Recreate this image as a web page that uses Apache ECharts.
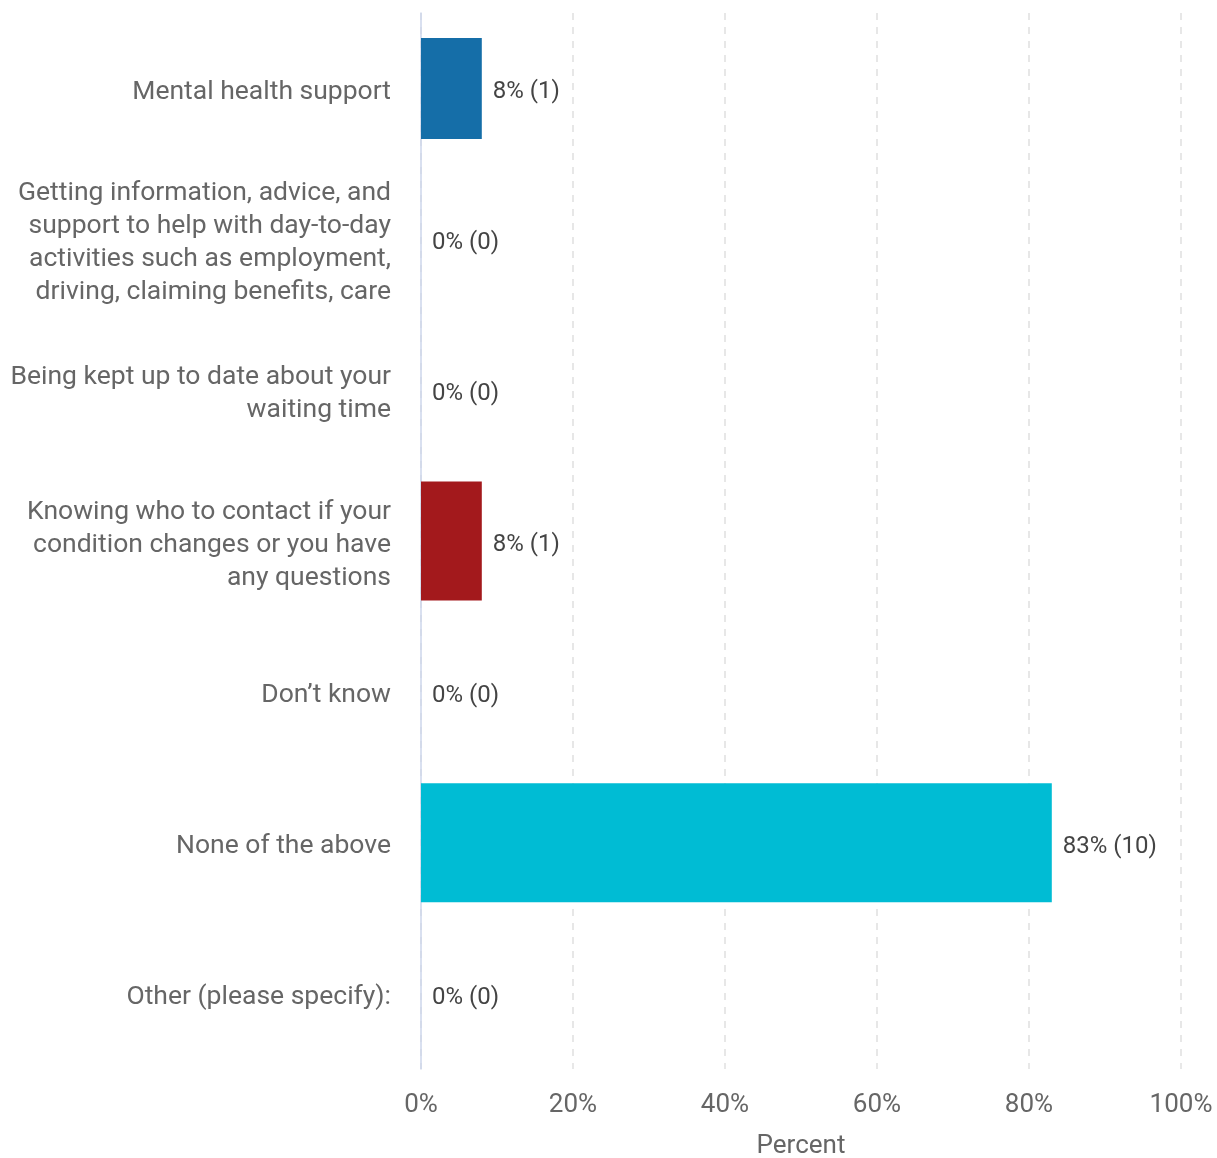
<!DOCTYPE html>
<html>
<head>
<meta charset="utf-8">
<title>Support needs</title>
<script src="https://cdn.jsdelivr.net/npm/echarts@6/dist/echarts.min.js"></script>
<style>
  html, body { margin: 0; padding: 0; background: #fff; }
  #chart { width: 1217px; height: 1158px; }
</style>
</head>
<body>
<div id="chart"></div>
<script>
// Answer options, top to bottom
const categories = [
  'Mental health support',
  'Getting information, advice, and\nsupport to help with day-to-day\nactivities such as employment,\ndriving, claiming benefits, care',
  'Being kept up to date about your\nwaiting time',
  'Knowing who to contact if your\ncondition changes or you have\nany questions',
  'Don\u2019t know',
  'None of the above',
  'Other (please specify):'
];
// Share of respondents (%) and number of respondents
const percents = [8, 0, 0, 8, 0, 83, 0];
const counts = [1, 0, 0, 1, 0, 10, 0];
// X axis ticks
const percentTicks = [0, 20, 40, 60, 80, 100];

// Styling
const barPalette = ['#156ea8', '#9c9c9c', '#9c9c9c', '#a3191c', '#9c9c9c', '#00bcd4', '#9c9c9c'];
const narrowRows = [0];           // rows drawn with the thinner bar
const FONT = 'Roboto, "Noto Sans", sans-serif';
// a thin empty first line nudges the text block a little below the row centre
const SPACER = '{s| }\n';
const spacerStyle = { fontSize: 1, lineHeight: 8 };

function rowData(keepNarrow) {
  return percents.map((v, i) => {
    const isNarrow = narrowRows.includes(i);
    if (isNarrow !== keepNarrow) return '-';
    return { value: v, itemStyle: { color: barPalette[i] } };
  });
}

const labelCfg = {
  show: true,
  position: 'right',
  distance: 11,
  formatter: p => SPACER + '{v|' + percents[p.dataIndex] + '% (' + counts[p.dataIndex] + ')}',
  rich: {
    s: spacerStyle,
    v: { fontFamily: FONT, fontSize: 24, lineHeight: 30, color: '#444' }
  }
};

const catAxisBase = {
  type: 'category',
  data: categories,
  inverse: true,
  axisTick: { show: false },
  splitLine: { show: false }
};

const chart = echarts.init(document.getElementById('chart'), null, { renderer: 'canvas' });
chart.setOption({
  animation: false,
  backgroundColor: '#fff',
  grid: { left: 421, right: 36, top: 13, bottom: 89, containLabel: false, outerBoundsMode: 'none' },
  xAxis: {
    type: 'value',
    min: percentTicks[0],
    max: percentTicks[percentTicks.length - 1],
    interval: percentTicks[1] - percentTicks[0],
    name: 'Percent',
    nameLocation: 'middle',
    nameGap: 64,
    nameTextStyle: { fontFamily: FONT, fontSize: 26, color: '#666' },
    axisLine: { show: false },
    axisTick: { show: false },
    axisLabel: {
      fontFamily: FONT, fontSize: 26, color: '#666', margin: 23,
      formatter: v => v + '%'
    },
    splitLine: {
      show: true,
      lineStyle: { color: '#e0e0e0', width: 1.5, type: [7, 7] }
    }
  },
  yAxis: [
    Object.assign({}, catAxisBase, {
      axisLine: { show: true, lineStyle: { color: '#ccd6eb', width: 1.5 } },
      axisLabel: {
        margin: 30, align: 'right', interval: 0,
        formatter: v => SPACER + '{t|' + v + '}',
        rich: {
          s: spacerStyle,
          t: { fontFamily: FONT, fontSize: 26.5, lineHeight: 33, color: '#666', align: 'right' }
        }
      }
    }),
    Object.assign({}, catAxisBase, {
      axisLine: { show: false },
      axisLabel: { show: false }
    })
  ],
  series: [
    {
      type: 'bar',
      yAxisIndex: 0,
      barWidth: 119,
      data: rowData(false),
      label: labelCfg
    },
    {
      type: 'bar',
      yAxisIndex: 1,
      barWidth: 101,
      data: rowData(true),
      label: labelCfg
    }
  ]
});
</script>
</body>
</html>
